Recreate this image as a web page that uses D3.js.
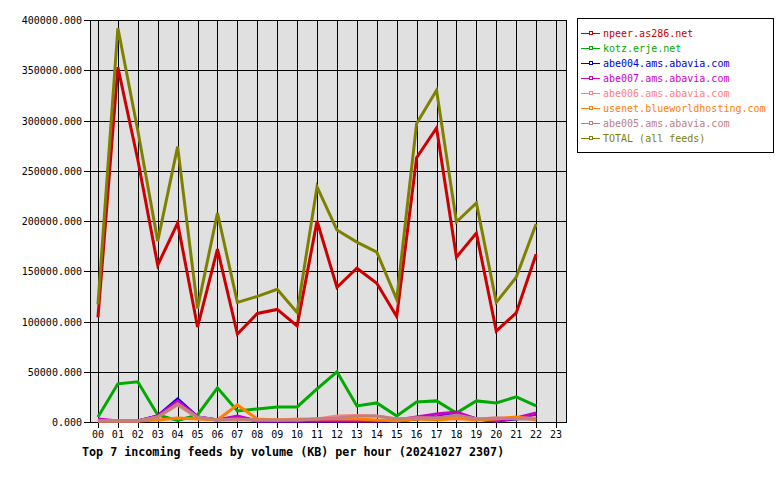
<!DOCTYPE html>
<html><head><meta charset="utf-8">
<script src="https://cdn.jsdelivr.net/npm/d3@7"></script>
<style>body{margin:0;background:#fff}svg{display:block}text{font-family:"DejaVu Sans Mono",monospace}</style>
</head><body><svg id="c" width="780" height="480"></svg>
<script>
const hours = ["00","01","02","03","04","05","06","07","08","09","10","11","12","13","14","15","16","17","18","19","20","21","22","23"];
const yTicks = [0,50000,100000,150000,200000,250000,300000,350000,400000];
const feedNames = ["npeer.as286.net","kotz.erje.net","abe004.ams.abavia.com","abe007.ams.abavia.com","abe006.ams.abavia.com","usenet.blueworldhosting.com","abe005.ams.abavia.com","TOTAL (all feeds)"];
const feedColors = ["#cc0000","#00aa00","#0000cc","#cc00cc","#ff8080","#ff8000","#c08080","#808000"];
const npeer  = [104000,353000,261000,156000,198000,94500,172000,87500,108000,112000,95500,200000,134000,153000,138000,105000,263000,292500,164000,188000,90500,108500,167000];
const kotz   = [5000,38000,40000,7000,1500,7000,34000,11000,13000,15000,15000,33000,50000,16000,19000,6000,20000,21000,9000,21000,19000,25000,16000];
const abe004 = [2000,1000,1000,6000,23000,5000,2000,5000,1000,1000,1000,1000,1000,2000,1000,1000,3000,5000,9000,3000,1000,3000,8000];
const abe007 = [3000,1000,1000,6000,21000,5000,2000,6000,1000,1000,1000,1000,1000,1000,1000,2000,5000,8000,10000,3000,1000,4000,9000];
const abe006 = [1000,1000,1000,5000,17000,4000,2000,2000,2000,2000,3000,3000,6000,6500,6000,3000,4000,4000,6000,3000,4000,4000,4000];
const usenet = [1000,1000,1000,2000,4000,3000,2000,17000,3000,2000,2000,3000,3000,3000,2000,1000,3000,2000,3500,2000,3000,5000,2000];
const abe005 = [1000,1000,1000,5000,18000,5000,2000,3000,2000,2000,2000,3000,4000,6000,6000,3000,4000,4000,7000,3000,4000,3000,3000];
const total  = [117000,392000,290000,180000,274000,113000,208000,119000,125000,132000,109000,234000,191000,179000,169000,122000,297000,330000,199000,218000,119000,144000,197000];
const series = [npeer,kotz,abe004,abe007,abe006,usenet,abe005,total];
const title = "Top 7 incoming feeds by volume (KB) per hour (20241027 2307)";

const svg = d3.select("#c");
const L=90,R=566,T=20,B=422;
const x = d3.scaleLinear().domain([-0.4,23.5]).range([L,R]);
const y = d3.scaleLinear().domain([0,400000]).range([B,T]);

svg.append("rect").attr("x",L).attr("y",T).attr("width",R-L).attr("height",B-T).attr("fill","#e0e0e0");
// grid
const g = svg.append("g").attr("shape-rendering","crispEdges");
g.selectAll("line.v").data(hours).join("line").attr("x1",(d,i)=>Math.round(x(i))+0.5).attr("x2",(d,i)=>Math.round(x(i))+0.5)
 .attr("y1",T).attr("y2",B+6).attr("stroke","#000").attr("stroke-width",1);
g.selectAll("line.h").data(yTicks).join("line").attr("y1",d=>Math.round(y(d))+0.5).attr("y2",d=>Math.round(y(d))+0.5)
 .attr("x1",L-6).attr("x2",R).attr("stroke","#000").attr("stroke-width",1);
svg.append("rect").attr("x",L+0.5).attr("y",T+0.5).attr("width",R-L).attr("height",B-T).attr("fill","none").attr("stroke","#000").attr("shape-rendering","crispEdges");

// labels
svg.selectAll("text.yl").data(yTicks).join("text").attr("x",82).attr("y",d=>y(d)+4).attr("text-anchor","end")
 .attr("font-size","10px").text(d=>d3.format(".3f")(d));
svg.selectAll("text.xl").data(hours).join("text").attr("x",(d,i)=>x(i)).attr("y",438).attr("text-anchor","middle")
 .attr("font-size","10px").text(d=>d);
svg.append("text").attr("x",82).attr("y",456).attr("font-size","11.7px").attr("font-weight","bold").text(title);

// lines
const line = d3.line().x((d,i)=>x(i)).y(d=>y(d));
series.forEach((s,k)=>{
  svg.append("path").attr("d",line(s)).attr("fill","none").attr("stroke",feedColors[k]).attr("stroke-width",3).attr("stroke-linejoin","miter");
});

// legend
const lg = svg.append("g");
lg.append("rect").attr("x",577.5).attr("y",18.5).attr("width",196).attr("height",134).attr("fill","#fff").attr("stroke","#000");
feedNames.forEach((n,i)=>{
  const yy = 33+i*15;
  lg.append("line").attr("x1",581).attr("x2",600).attr("y1",yy+0.5).attr("y2",yy+0.5).attr("stroke",feedColors[i]).attr("stroke-width",1);
  lg.append("rect").attr("x",589.5).attr("y",yy-1.5).attr("width",3).attr("height",3).attr("fill","#fff").attr("stroke",feedColors[i]).attr("stroke-width",1);
  lg.append("text").attr("x",603).attr("y",yy+4).attr("font-size","10px").attr("fill",feedColors[i]).text(n);
});
</script></body></html>
